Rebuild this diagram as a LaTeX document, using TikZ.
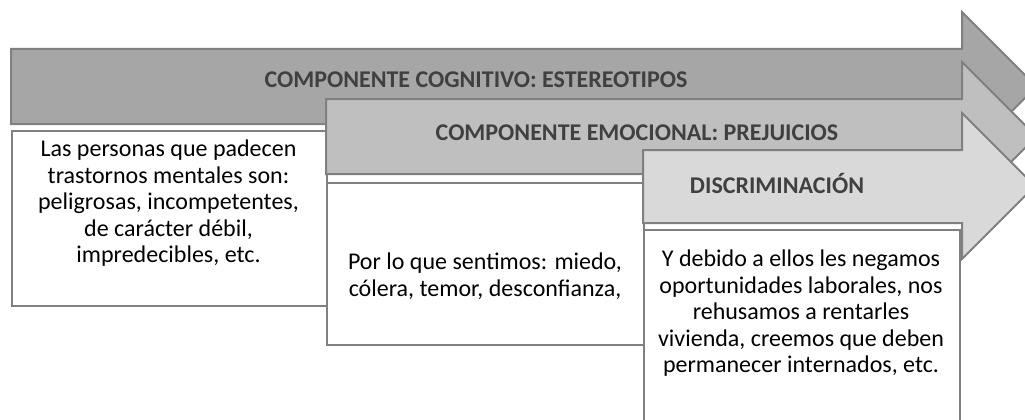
\documentclass[tikz,border=0pt]{standalone}
\usepackage{fontspec}
\setmainfont{Carlito}
\usepackage{xcolor}
\usetikzlibrary{positioning}
\definecolor{edgegray}{HTML}{808080}
\definecolor{titlegray}{HTML}{404040}
\definecolor{fillA}{HTML}{A6A6A6}
\definecolor{fillB}{HTML}{BFBFBF}
\definecolor{fillC}{HTML}{D9D9D9}

\begin{document}
\begin{tikzpicture}[x=1pt,y=-1pt,
  ar/.style={draw=edgegray,line width=2pt,line join=miter},
  bx/.style={draw=edgegray,line width=2pt,fill=white,anchor=north west,inner sep=0pt},
  lbl/.style={font=\fontsize{24}{28}\selectfont\bfseries,text=titlegray,anchor=base,inner sep=0pt},
  txt/.style={font=\fontsize{24}{26.5}\selectfont,align=center,anchor=north,inner sep=0pt}]
\clip (0,0) rectangle (1025,420);
% cognitive arrow and its box
\draw[ar,fill=fillA] (11,49) -- (962,49) -- (962,12) -- (1036.5,86.5) -- (962,161) -- (962,124) -- (11,124) -- cycle;
\node[lbl] (cog) at (476,87) {COMPONENTE COGNITIVO: ESTEREOTIPOS};
\node[bx,minimum width=315,minimum height=175] (b1) at (11,130) {};
\node[txt] (t1) at (168.5,140) {Las personas que padecen\\trastornos mentales son:\\peligrosas, incompetentes,\\de carácter débil,\\impredecibles, etc.};
% emotional arrow and its box
\draw[ar,fill=fillB] (326,99) -- (962,99) -- (962,62) -- (1036.5,136.5) -- (962,211) -- (962,174) -- (326,174) -- cycle;
\node[lbl] (emo) at (637,140) {COMPONENTE EMOCIONAL: PREJUICIOS};
\node[bx,minimum width=317,minimum height=162] (b2) at (326,182) {};
\node[txt] (t2) at (485,253) {Por lo que sentimos: miedo,\\cólera, temor, desconfianza,};
% discrimination arrow and its box
\draw[ar,fill=fillC] (643,150) -- (962,150) -- (962,113) -- (1035,186) -- (962,259) -- (962,223) -- (643,223) -- cycle;
\node[lbl] (dis) at (777,193) {DISCRIMINACIÓN};
\node[bx,minimum width=316,minimum height=211] (b3) at (643,229) {};
\node[txt] (t3) at (801,250) {Y debido a ellos les negamos\\oportunidades laborales, nos\\rehusamos a rentarles\\vivienda, creemos que deben\\permanecer internados, etc.};
\end{tikzpicture}
\end{document}
